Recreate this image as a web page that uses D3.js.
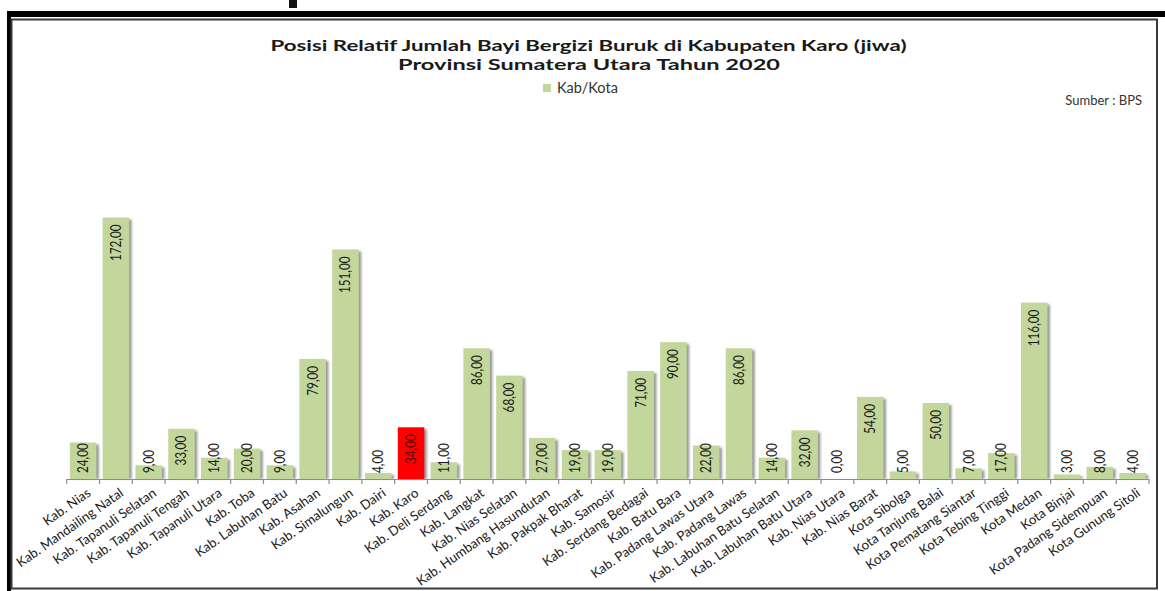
<!DOCTYPE html>
<html>
<head>
<meta charset="utf-8">
<script src="https://cdn.jsdelivr.net/npm/d3@7"></script>
<style>
  html, body { margin: 0; padding: 0; background: #fff; }
  svg { display: block; }
</style>
</head>
<body>
<svg id="chart" width="1165" height="591"></svg>
<script>
// Kabupaten / kota in Sumatera Utara, in chart order
const categories = [
  "Kab. Nias", "Kab. Mandailing Natal", "Kab. Tapanuli Selatan", "Kab. Tapanuli Tengah",
  "Kab. Tapanuli Utara", "Kab. Toba", "Kab. Labuhan Batu", "Kab. Asahan",
  "Kab. Simalungun", "Kab. Dairi", "Kab. Karo", "Kab. Deli Serdang",
  "Kab. Langkat", "Kab. Nias Selatan", "Kab. Humbang Hasundutan", "Kab. Pakpak Bharat",
  "Kab. Samosir", "Kab. Serdang Bedagai", "Kab. Batu Bara", "Kab. Padang Lawas Utara",
  "Kab. Padang Lawas", "Kab. Labuhan Batu Selatan", "Kab. Labuhan Batu Utara", "Kab. Nias Utara",
  "Kab. Nias Barat", "Kota Sibolga", "Kota Tanjung Balai", "Kota Pematang Siantar",
  "Kota Tebing Tinggi", "Kota Medan", "Kota Binjai", "Kota Padang Sidempuan",
  "Kota Gunung Sitoli"
];

// Jumlah bayi bergizi buruk (jiwa)
const values = [
  24, 172, 9, 33,
  14, 20, 9, 79,
  151, 4, 34, 11,
  86, 68, 27, 19,
  19, 71, 90, 22,
  86, 14, 32, 0,
  54, 5, 50, 7,
  17, 116, 3, 8,
  4
];

const highlighted = ["Kab. Karo"];

const titleLines = [
  "Posisi Relatif Jumlah Bayi Bergizi Buruk di Kabupaten Karo (jiwa)",
  "Provinsi Sumatera Utara Tahun 2020"
];
const legendLabel = "Kab/Kota";
const sourceLabel = "Sumber : BPS";

const data = categories.map((c, i) => ({ name: c, value: values[i] }));
const fmt = v => d3.format(".2f")(v).replace(".", ",");
const FONT = "Lato, 'Open Sans', 'Liberation Sans', sans-serif";

const svg = d3.select("#chart");

// Outer frame
svg.append("rect").attr("x", 7).attr("y", 11).attr("width", 1158).attr("height", 6).attr("fill", "#000");
svg.append("rect").attr("x", 7).attr("y", 11).attr("width", 4).attr("height", 580).attr("fill", "#000");
svg.append("rect").attr("x", 289).attr("y", 0).attr("width", 8).attr("height", 8).attr("fill", "#111");
svg.append("rect")
  .attr("x", 11.5).attr("y", 19.5).attr("width", 1145.5).attr("height", 569)
  .attr("fill", "#fff").attr("stroke", "#3a3a3a").attr("stroke-width", 2);

// Shadow blur
const defs = svg.append("defs");
defs.append("filter").attr("id", "soft").attr("x", "-50%").attr("y", "-50%").attr("width", "200%").attr("height", "200%")
  .append("feGaussianBlur").attr("stdDeviation", 1.1);

// Scales
const x = d3.scaleBand().domain(categories).range([66.7, 1149]).paddingInner(0.19).paddingOuter(0.095);
const xEdges = d3.scaleLinear().domain([0, categories.length]).range([66.7, 1149]);
const y = d3.scaleLinear().domain([0, 172]).range([479, 217.5]);

// Title
const title = svg.append("g").attr("font-family", FONT)
  .attr("font-weight", "bold").attr("font-size", 16).attr("fill", "#1a1a1a").attr("text-anchor", "middle");
title.append("text").attr("x", 588.5).attr("y", 51).attr("textLength", 636).attr("lengthAdjust", "spacingAndGlyphs").text(titleLines[0]);
title.append("text").attr("x", 589).attr("y", 70).attr("textLength", 382).attr("lengthAdjust", "spacingAndGlyphs").text(titleLines[1]);

// Legend
svg.append("rect").attr("x", 543).attr("y", 84).attr("width", 8).attr("height", 8).attr("fill", "#c3d69b");
svg.append("text").attr("x", 557).attr("y", 93).attr("font-family", FONT)
  .attr("font-size", 14.5).attr("fill", "#333").text(legendLabel);

// Source note
svg.append("text").attr("x", 1142).attr("y", 105).attr("text-anchor", "end")
  .attr("font-family", FONT).attr("font-size", 13).attr("fill", "#333").text(sourceLabel);

// Bars with drop shadow
const bars = svg.append("g");
bars.selectAll("rect.shadow").data(data.filter(d => d.value > 0)).join("rect")
  .attr("class", "shadow")
  .attr("x", d => x(d.name) + 2.5)
  .attr("y", d => y(d.value) + 2)
  .attr("width", x.bandwidth())
  .attr("height", d => Math.max(0, y(0) - y(d.value) - 2))
  .attr("fill", "#9a9a9a")
  .attr("filter", "url(#soft)");
bars.selectAll("rect.bar").data(data).join("rect")
  .attr("class", "bar")
  .attr("x", d => x(d.name))
  .attr("y", d => y(d.value))
  .attr("width", x.bandwidth())
  .attr("height", d => y(0) - y(d.value))
  .attr("fill", d => highlighted.includes(d.name) ? "#ff0000" : "#c3d69b");

// Axis line and tick marks between categories
const axis = svg.append("g");
axis.append("line").attr("x1", xEdges(0)).attr("x2", xEdges(categories.length))
  .attr("y1", y(0) + 0.5).attr("y2", y(0) + 0.5).attr("stroke", "#8c8c8c").attr("stroke-width", 1.2);
axis.selectAll("line.tick").data(d3.range(categories.length + 1)).join("line")
  .attr("class", "tick")
  .attr("x1", i => xEdges(i)).attr("x2", i => xEdges(i))
  .attr("y1", y(0)).attr("y2", y(0) + 5)
  .attr("stroke", "#8c8c8c").attr("stroke-width", 1.2);

// Category labels
axis.selectAll("text.cat").data(data).join("text")
  .attr("class", "cat")
  .attr("transform", d => `translate(${x(d.name) + x.bandwidth() / 2 + 8.5},495) rotate(-35)`)
  .attr("text-anchor", "end")
  .attr("font-family", FONT)
  .attr("font-size", 13.2)
  .attr("fill", "#1a1a1a")
  .text(d => d.name);

// Value labels, rotated, placed inside the top of each bar
const LABEL_SQUEEZE = 0.78;
const labels = svg.append("g");
labels.selectAll("text").data(data).join("text")
  .attr("font-family", FONT)
  .attr("font-size", 15)
  .attr("fill", d => highlighted.includes(d.name) ? "#5c0000" : "#1a1a1a")
  .attr("text-anchor", "end")
  .text(d => fmt(d.value))
  .each(function (d) {
    const len = this.getComputedTextLength() * LABEL_SQUEEZE;
    let top = y(d.value) + 7;
    if (top + len > y(0) - 6) top = y(0) - 6 - len;
    const cx = x(d.name) + x.bandwidth() / 2 + 5;
    d3.select(this).attr("transform", `translate(${cx},${top}) rotate(-90) scale(${LABEL_SQUEEZE},1)`);
  });
</script>
</body>
</html>
